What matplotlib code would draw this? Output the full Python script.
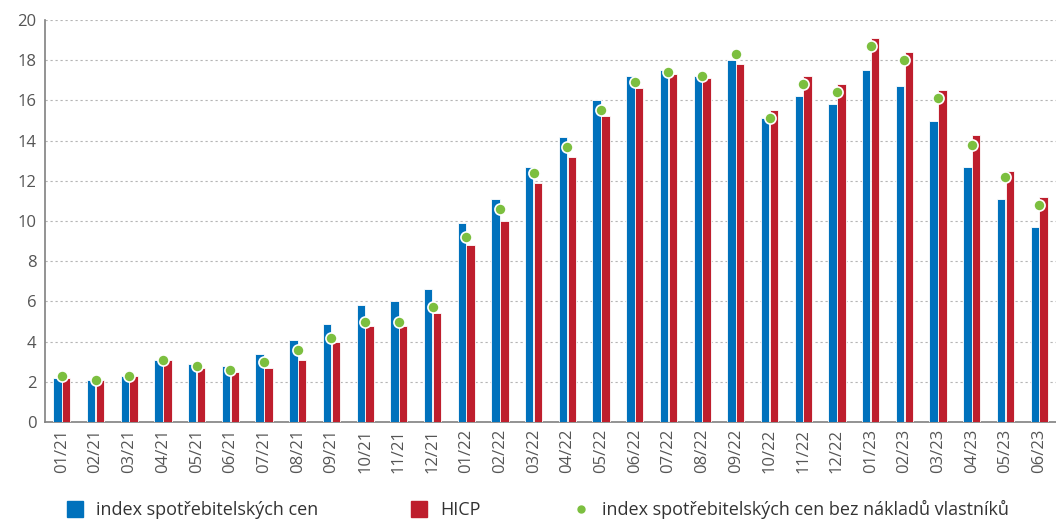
import numpy as np
import matplotlib
matplotlib.use("Agg")
import matplotlib.pyplot as plt
from matplotlib.lines import Line2D

plt.rcParams['font.family'] = ['Open Sans', 'DejaVu Sans']

# měsíce
months = ["01/21", "02/21", "03/21", "04/21", "05/21", "06/21", "07/21", "08/21",
          "09/21", "10/21", "11/21", "12/21", "01/22", "02/22", "03/22", "04/22",
          "05/22", "06/22", "07/22", "08/22", "09/22", "10/22", "11/22", "12/22",
          "01/23", "02/23", "03/23", "04/23", "05/23", "06/23"]

# meziroční inflace v %
cpi = [2.2, 2.1, 2.3, 3.1, 2.9, 2.8, 3.4, 4.1, 4.9, 5.8, 6.0, 6.6, 9.9, 11.1, 12.7,
       14.2, 16.0, 17.2, 17.5, 17.2, 18.0, 15.1, 16.2, 15.8, 17.5, 16.7, 15.0, 12.7,
       11.1, 9.7]
hicp = [2.2, 2.1, 2.3, 3.1, 2.7, 2.5, 2.7, 3.1, 4.0, 4.8, 4.8, 5.4, 8.8, 10.0, 11.9,
        13.2, 15.2, 16.6, 17.3, 17.1, 17.8, 15.5, 17.2, 16.8, 19.1, 18.4, 16.5, 14.3,
        12.5, 11.2]
cpi_excl = [2.3, 2.1, 2.3, 3.1, 2.8, 2.6, 3.0, 3.6, 4.2, 5.0, 5.0, 5.7, 9.2, 10.6,
            12.4, 13.7, 15.5, 16.9, 17.4, 17.2, 18.3, 15.1, 16.8, 16.4, 18.7, 18.0,
            16.1, 13.8, 12.2, 10.8]

BLUE = "#0071bc"
RED = "#be1e2d"
GREEN = "#7cbf3f"
GREY = "#555555"

fig = plt.figure(figsize=(10.56, 5.19), dpi=100)
ax = fig.add_axes([45 / 1056, 97 / 519, 1011 / 1056, 402 / 519])

x = np.arange(len(months))
w = 0.25
ax.bar(x - 0.13, cpi, w, color=BLUE, edgecolor="white", linewidth=0.6, zorder=3)
ax.bar(x + 0.13, hicp, w, color=RED, edgecolor="white", linewidth=0.6, zorder=3)
ax.plot(x, cpi_excl, "o", color=GREEN, markersize=8, markeredgecolor="white",
        markeredgewidth=1.2, linestyle="none", zorder=4)

ax.set_xlim(-0.5, len(months) - 0.5)
ax.set_ylim(0, 20)
ax.set_yticks(range(0, 21, 2))
ax.set_xticks(x)
ax.set_xticklabels(months, rotation=90)
ax.tick_params(axis="both", length=0, colors=GREY, labelsize=12)
ax.tick_params(axis="x", pad=5)
ax.tick_params(axis="y", pad=6)

ax.yaxis.grid(True, linestyle=(0, (2, 2.5)), color="#b5b5b5", linewidth=0.8, zorder=0)
ax.set_axisbelow(True)
for s in ["top", "right"]:
    ax.spines[s].set_visible(False)
ax.spines["left"].set_color("#808080")
ax.spines["bottom"].set_color("#808080")
ax.spines["left"].set_linewidth(1.2)
ax.spines["bottom"].set_linewidth(1.2)

handles = [
    Line2D([], [], marker="s", color=BLUE, linestyle="none", markersize=12),
    Line2D([], [], marker="s", color=RED, linestyle="none", markersize=12),
    Line2D([], [], marker="o", color=GREEN, linestyle="none", markersize=5),
]
labels = ["index spotřebitelských cen", "HICP",
          "index spotřebitelských cen bez nákladů vlastníků"]
fig.legend(handles, labels, loc="lower left", bbox_to_anchor=(0.047, -0.032), ncol=3,
           frameon=False, fontsize=13, labelcolor="#333333", columnspacing=5.1,
           handletextpad=0.65, handlelength=1.0)

fig.savefig("out.png", dpi=100)
